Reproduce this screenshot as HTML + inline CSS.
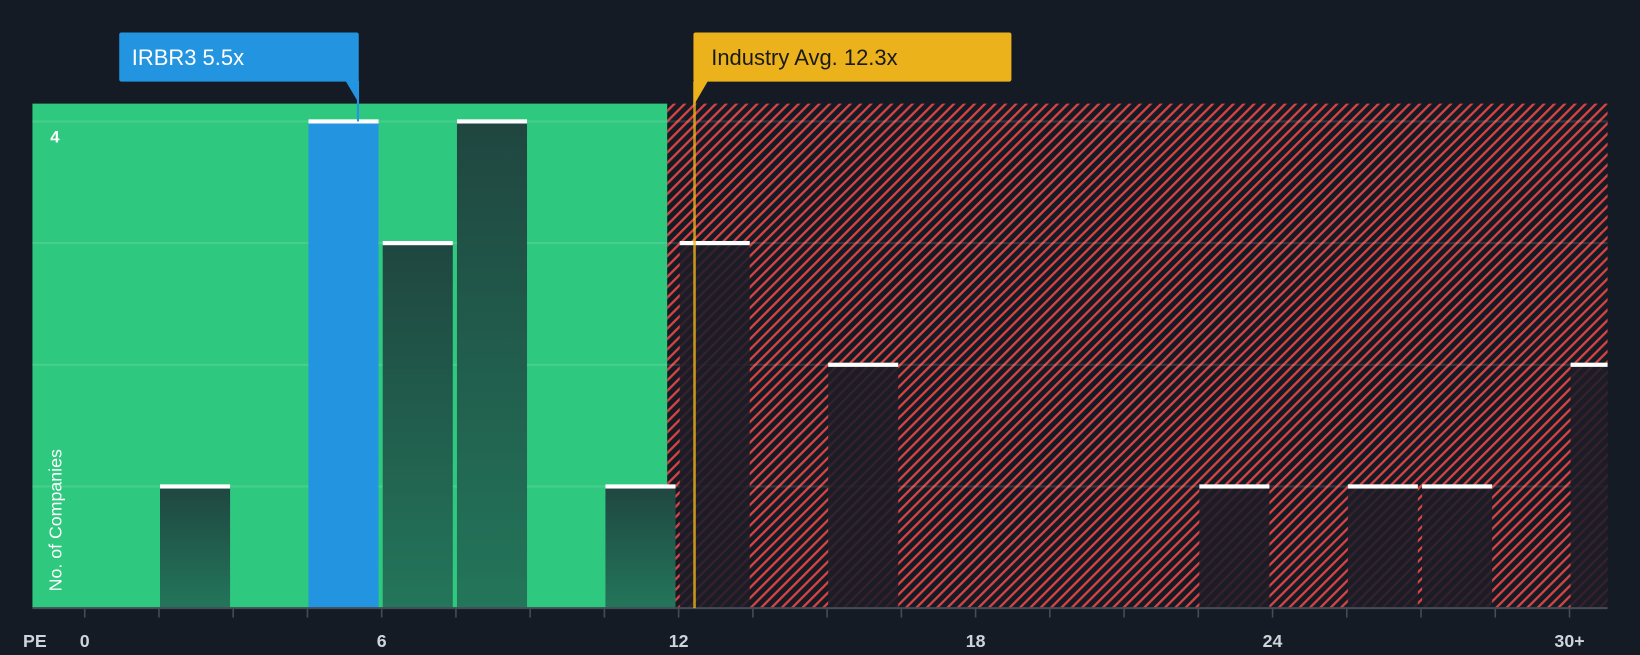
<!DOCTYPE html>
<html><head><meta charset="utf-8"><style>
html,body{margin:0;padding:0;background:#151b24;width:1640px;height:650px;overflow:hidden}
#wrap{position:absolute;left:0;top:0;width:1568px;height:621px;transform-origin:0 0;transform:scale(1.04592,1.04670)}
svg text{font-family:"Liberation Sans",sans-serif}
</style></head><body>
<div id="wrap">
<svg id="svg" width="1568" height="621" xmlns="http://www.w3.org/2000/svg">
<defs>
<pattern id="hatch" width="7" height="7" patternUnits="userSpaceOnUse" patternTransform="rotate(45)">
<rect width="7" height="7" fill="#151b24"/><rect x="0" y="0" width="2.2" height="7" fill="#d94343"/>
</pattern>
<linearGradient id="gg" x1="0" y1="0" x2="0" y2="1"><stop offset="0" stop-color="#1f4640"/><stop offset="1" stop-color="#23765a"/></linearGradient>
</defs>
<rect x="31" y="99" width="607" height="482" fill="#2ec87f"/>
<rect x="638" y="99" width="899" height="482" fill="url(#hatch)"/>
<g id="grid"></g>
<g id="bars"></g>
<line x1="31" y1="581" x2="1537" y2="581" stroke="#444c5a" stroke-width="2"/>
<g id="ticks"></g>
<text x="48" y="136" fill="#fff" font-size="16" font-weight="bold">4</text>
<text transform="translate(59,565) rotate(-90)" fill="#fff" font-size="17">No. of Companies</text>
<text x="22" y="618" fill="#d0d4da" font-size="17" font-weight="bold">PE</text>
<g>
<line id="compLine" y1="78" y2="116" stroke="#2394e0" stroke-width="2"/>
<rect x="114" y="31" width="229" height="47" rx="2" fill="#2394e0"/>
<polygon id="compPtr" fill="#2394e0"/>
<text x="126" y="62" fill="#fff" font-size="21">IRBR3 5.5x</text>
</g>
<g>
<line id="indLine" y1="78" y2="581" stroke="#ecb21b" stroke-width="2.5" opacity="0.8"/>
<rect x="663" y="31" width="304" height="47" rx="2" fill="#ecb21b"/>
<polygon id="indPtr" fill="#ecb21b"/>
<text x="680" y="62" fill="#1a1a1a" font-size="21">Industry Avg. 12.3x</text>
</g>
</svg></div>
<script>
const binStarts=[1.5,4.5,6,7.5,10.5,12,15,22.5,25.5,27,30];
const counts=[1,4,3,4,1,3,2,1,1,1,2];
const highlight=[false,true,false,false,false,false,false,false,false,false,false];
const xTickLabels=["0","6","12","18","24","30+"];
const xTickValues=[0,6,12,18,24,30];
const companyPE=5.5, industryPE=12.3, splitPE=11.9;
const X=v=>81+v*47.32, Y=c=>581-c*116.25, binW=1.5;
const NS="http://www.w3.org/2000/svg";
function mk(t,a,p){const e=document.createElementNS(NS,t);for(const k in a)e.setAttribute(k,a[k]);p.appendChild(e);return e;}
const grid=document.getElementById('grid');
for(let c=1;c<=4;c++){const l=mk('line',{x1:31,x2:1537,y1:Y(c),y2:Y(c),stroke:'rgba(255,255,255,0.12)','stroke-width':2},grid);

}
const bars=document.getElementById('bars');
binStarts.forEach((b,i)=>{const x0=X(b)+1,x1=Math.min(X(b+binW)-3,1537);const w=x1-x0,y=Y(counts[i]);
const g=mk('g',{},bars);


let fill=highlight[i]?'#2394e0':(b<splitPE?'url(#gg)':'rgba(30,28,40,0.88)');
mk('rect',{x:x0,y:y,width:w,height:581-y,fill:fill},g);
mk('rect',{x:x0,y:y-2,width:w,height:4,fill:'#fff'},g);});
const ticks=document.getElementById('ticks');
for(let v=0;v<=30;v+=1.5){mk('line',{x1:X(v),x2:X(v),y1:581,y2:590,stroke:'#444c5a','stroke-width':1.5},ticks);}
xTickValues.forEach((v,i)=>{const t=mk('text',{x:X(v),y:618,fill:'#d0d4da','font-size':17,'font-weight':'bold','text-anchor':'middle'},ticks);t.textContent=xTickLabels[i];

});
const cx=X(companyPE)+1, ix=X(industryPE)+1;
const cl=document.getElementById('compLine');cl.setAttribute('x1',cx);cl.setAttribute('x2',cx);
document.getElementById('compPtr').setAttribute('points',`${cx-12},77 ${cx+1},77 ${cx+1},99`);
const il=document.getElementById('indLine');il.setAttribute('x1',ix);il.setAttribute('x2',ix);
document.getElementById('indPtr').setAttribute('points',`${ix-1},77 ${ix+13},77 ${ix-1},101`);
</script>
</body></html>
